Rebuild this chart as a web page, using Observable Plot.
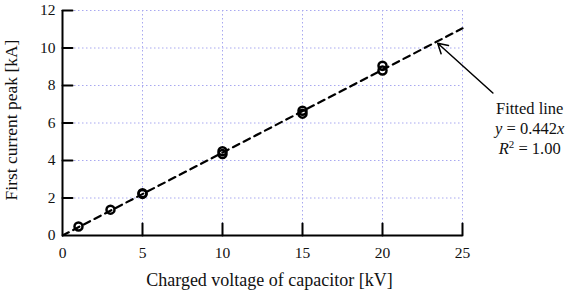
<!DOCTYPE html>
<html><head><meta charset="utf-8">
<script src="https://cdn.jsdelivr.net/npm/d3@7"></script>
<script src="https://cdn.jsdelivr.net/npm/@observablehq/plot@0.6"></script>
<style>
body{margin:0;background:#fff}
svg{font-family:"Liberation Serif","Times New Roman",serif}
</style>
</head><body><div id="chart"></div>
<script>
// measured data
const voltage = [1, 3, 5, 5, 10, 10, 15, 15, 20, 20];
const peak = [0.48, 1.38, 2.22, 2.26, 4.35, 4.5, 6.5, 6.65, 8.8, 9.05];
// fitted line y = 0.442x
const fitX = [0, 25];
const fitY = [0, 11.05];
// ticks
const xTicks = [0, 5, 10, 15, 20, 25];
const yTicks = [0, 2, 4, 6, 8, 10, 12];
// annotation
const noteText = "Fitted line\ny = 0.442x\nR² = 1.00";
const arrowFrom = [26.9, 7.6];
const arrowTo = [23.45, 10.25];
const notePos = [29.2, 5.75];
const xTitle = "Charged voltage of capacitor [kV]";
const yTitle = "First current peak [kA]";

const points = voltage.map((v, i) => ({v, p: peak[i]}));
const fit = fitX.map((x, i) => ({x, y: fitY[i]}));
const tickShape = {draw(ctx, l) { ctx.moveTo(0, 0); ctx.lineTo(0, -l); }};

const chart = Plot.plot({
  width: 570, height: 291,
  marginLeft: 62, marginRight: 108, marginTop: 10, marginBottom: 56,
  style: {fontSize: "15px", fontFamily: "'Liberation Serif', serif", color: "#111"},
  x: {domain: [0, 25]},
  y: {domain: [0, 12]},
  marks: [
    Plot.gridX(xTicks.filter(d => d > 0), {stroke: "#a8a8f0", strokeOpacity: 1, strokeDasharray: "1.5,2.5", strokeWidth: 1}),
    Plot.gridY(yTicks.filter(d => d > 0), {stroke: "#a8a8f0", strokeOpacity: 1, strokeDasharray: "1.5,2.5", strokeWidth: 1}),
    Plot.axisX(xTicks, {tickSize: 0, tickPadding: 11, label: null, fontSize: 15.5, fill: "#111"}),
    Plot.axisY(yTicks, {tickSize: 0, tickPadding: 7, label: null, fontSize: 15.5, fill: "#111"}),
    Plot.vector(xTicks.filter(d => d > 0), {x: d => d, y: () => 0, length: 12, rotate: 0, anchor: "start", shape: tickShape, stroke: "black", strokeWidth: 2}),
    Plot.vector(yTicks.filter(d => d > 0), {x: () => 0, y: d => d, length: 10, rotate: 90, anchor: "start", shape: tickShape, stroke: "black", strokeWidth: 2}),
    Plot.ruleX([0], {stroke: "black", strokeWidth: 2}),
    Plot.ruleY([0], {stroke: "black", strokeWidth: 2}),
    Plot.line(fit, {x: "x", y: "y", stroke: "black", strokeWidth: 2.2, strokeDasharray: "7,5"}),
    Plot.dot(points, {x: "v", y: "p", r: 4, stroke: "black", strokeWidth: 2.5, fill: "none"}),
    Plot.arrow([{x1: arrowFrom[0], y1: arrowFrom[1], x2: arrowTo[0], y2: arrowTo[1]}], {x1: "x1", y1: "y1", x2: "x2", y2: "y2", stroke: "black", strokeWidth: 1.5, headLength: 11, clip: false}),
    Plot.text([noteText], {x: () => notePos[0], y: () => notePos[1], text: d => d, fontSize: 16.5, lineHeight: 1.2, textAnchor: "middle", lineAnchor: "middle", fill: "#111", className: "fitnote", clip: false}),
    Plot.text([xTitle], {frameAnchor: "bottom", dy: 45, dx: 7, fontSize: 18, textAnchor: "middle", lineAnchor: "middle", fill: "#111"}),
    Plot.text([yTitle], {frameAnchor: "left", rotate: -90, dx: -51, dy: -3, fontSize: 17.5, textAnchor: "middle", lineAnchor: "middle", fill: "#111"})
  ]
});
document.getElementById("chart").appendChild(chart);

// italic/superscript styling of the note
const note = chart.querySelector(".fitnote text");
if (note) {
  const tspans = note.querySelectorAll("tspan");
  if (tspans.length === 3) {
    tspans[1].innerHTML = '<tspan font-style="italic">y</tspan> = 0.442<tspan font-style="italic">x</tspan>';
    tspans[2].innerHTML = '<tspan font-style="italic">R</tspan><tspan baseline-shift="super" font-size="11">2</tspan> = 1.00';
  }
}
</script>
</body></html>
